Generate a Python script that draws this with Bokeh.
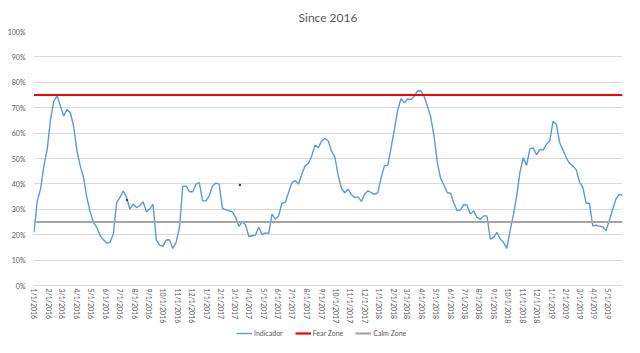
import datetime as dt
import pandas as pd
from bokeh.plotting import figure
from bokeh.layouts import column
from bokeh.models import (Legend, LegendItem, FixedTicker,
                          CustomJSTickFormatter, NumeralTickFormatter, Range1d)
from bokeh.embed import file_html
from bokeh.resources import INLINE

# ---- data (weekly readings, percent) ----
indicator_pct = [
    21, 33.3, 38, 47.1, 53.6, 65.4, 72.5, 74.8, 70.6, 66.7,
    69.3, 68, 62.7, 52.9, 47.1, 42.5, 34.6, 29, 24.8, 22.9,
    19.6, 18, 16.7, 17, 20.3, 32.7, 34.6, 37.3, 34.6, 30.1,
    32, 30.7, 31.4, 33, 29.1, 30.1, 32, 18, 15.9, 15.4,
    17.9, 18, 14.6, 17, 22.9, 39, 39.2, 36.9, 36.9, 39.9,
    40.5, 33.3, 33.3, 35.3, 39.2, 40.3, 39.9, 30.5, 29.8, 29.4,
    29, 26.8, 23.3, 25.1, 23.8, 19.3, 19.6, 19.9, 22.9, 20,
    20.7, 20.5, 28.1, 26.1, 27.4, 32.4, 32.7, 36.6, 40.5, 41.4,
    39.9, 43.8, 47.1, 48.1, 51, 55.2, 54.3, 56.9, 57.9, 56.9,
    52.9, 50.6, 43.4, 38.2, 36.5, 37.9, 35.8, 34.6, 34.9, 33.1,
    35.9, 37.3, 36.6, 35.9, 36.6, 42.5, 47.1, 47.3, 54.2, 61.4,
    69, 73.5, 71.9, 73.5, 73.2, 74.5, 76.6, 76.7, 74.5, 70.6,
    66.4, 58.8, 48.4, 42.1, 39.6, 36.5, 36.3, 32.4, 29.5, 29.8,
    31.9, 31.6, 28.1, 29.4, 26.8, 26.1, 27.4, 27.4, 18.3, 18.9,
    20.9, 18.3, 17, 14.6, 21.6, 27.8, 35.3, 44.7, 50.3, 47.3,
    53.9, 54.2, 51.4, 53.6, 53.3, 55.6, 56.9, 64.7, 63.4, 56.2,
    53.3, 50.3, 48.1, 47.1, 45.5, 40.8, 38.6, 32.4, 32.4, 23.5,
    23.7, 23.4, 23.1, 21.6, 25.5, 29.8, 34, 35.9, 35.5,
]
dates = pd.date_range("2016-01-01", periods=len(indicator_pct), freq="7D")
fear_zone = 0.75
calm_zone = 0.25
stray_dates = pd.to_datetime(["2016-07-16", "2017-03-12"])
stray_pct = [33.7, 39.6]
month_ticks = pd.date_range("2016-01-01", "2019-05-01", freq="MS")
y_ticks = [0, 0.1, 0.2, 0.3, 0.4, 0.5, 0.6, 0.7, 0.8, 0.9, 1.0]
series_names = ["Indicador", "Fear Zone", "Calm Zone"]

FONT = "Lato"
GREY = "#595959"
C_IND, C_FEAR, C_CALM = "#5b9bd5", "#ff0000", "#a5a5a5"
W_IND, W_ZONE = 1.4, 2.2

ind_y = [v / 100 for v in indicator_pct]
x_span = [dates[0], dates[-1]]

p = figure(width=640, height=328, x_axis_type="datetime",
           output_backend="svg", toolbar_location=None,
           x_range=Range1d(dt.datetime(2015, 12, 31), dates[-1].to_pydatetime()),
           y_range=Range1d(0, 1),
           min_border_left=33, min_border_right=18,
           min_border_top=30, min_border_bottom=43)
p.outline_line_color = None
p.background_fill_color = "white"
p.border_fill_color = "white"

p.title.text = "Since 2016"
p.title.align = "center"
p.title.text_font = FONT
p.title.text_font_size = "12px"
p.title.text_font_style = "normal"
p.title.text_color = GREY
p.title.text_line_height = 1.0
p.title.standoff = 14

p.line(dates, ind_y, line_color=C_IND, line_width=W_IND)
p.line(x_span, [fear_zone, fear_zone], line_color=C_FEAR, line_width=W_ZONE)
p.line(x_span, [calm_zone, calm_zone], line_color=C_CALM, line_width=W_ZONE)
p.scatter(stray_dates, [v / 100 for v in stray_pct], size=2.5,
          color="#1f3fd0", line_color=None)

# axes
p.xgrid.visible = False
p.ygrid.grid_line_color = "#d9d9d9"
p.ygrid.grid_line_width = 1

p.yaxis.ticker = FixedTicker(ticks=y_ticks)
p.yaxis.formatter = NumeralTickFormatter(format="0%")
p.yaxis.axis_line_color = None
p.yaxis.major_tick_line_color = None
p.yaxis.minor_tick_line_color = None
p.yaxis.major_tick_out = 0
p.yaxis.major_tick_in = 0
p.yaxis.minor_tick_out = 0
p.yaxis.major_label_standoff = 8
p.yaxis.major_label_text_font = FONT
p.yaxis.major_label_text_font_size = "7px"
p.yaxis.major_label_text_color = GREY

p.xaxis.ticker = FixedTicker(ticks=[t.value / 1e6 for t in month_ticks])
p.xaxis.formatter = CustomJSTickFormatter(code="""
const d = new Date(tick);
return (d.getUTCMonth() + 1) + "/" + d.getUTCDate() + "/" + d.getUTCFullYear();
""")
p.xaxis.major_label_orientation = "vertical"
p.xaxis.axis_line_color = "#d9d9d9"
p.xaxis.major_tick_line_color = None
p.xaxis.minor_tick_line_color = None
p.xaxis.major_tick_out = 0
p.xaxis.major_tick_in = 0
p.xaxis.minor_tick_out = 0
p.xaxis.major_label_standoff = 3
p.xaxis.major_label_text_font = FONT
p.xaxis.major_label_text_font_size = "7px"
p.xaxis.major_label_text_color = GREY

# legend strip below the chart (series drawn out of view, only the legend shows)
lg = figure(width=640, height=25, output_backend="svg", toolbar_location=None,
            x_axis_location=None, y_axis_location=None,
            x_range=Range1d(dates[0], dates[-1]), y_range=Range1d(5, 6),
            min_border=0)
lg.grid.visible = False
lg.outline_line_color = None
lg.border_fill_color = "white"
lg.background_fill_color = "white"
r1 = lg.line(dates, ind_y, line_color=C_IND, line_width=W_IND)
r2 = lg.line(x_span, [fear_zone, fear_zone], line_color=C_FEAR, line_width=W_ZONE)
r3 = lg.line(x_span, [calm_zone, calm_zone], line_color=C_CALM, line_width=W_ZONE)
legend = Legend(items=[LegendItem(label=series_names[0], renderers=[r1]),
                       LegendItem(label=series_names[1], renderers=[r2]),
                       LegendItem(label=series_names[2], renderers=[r3])],
                orientation="horizontal", location=(203, 15),
                border_line_color=None, background_fill_alpha=0,
                label_text_font=FONT, label_text_font_size="7px",
                label_text_color=GREY, glyph_width=16, glyph_height=10,
                label_standoff=2, spacing=12, padding=0, margin=0,
                label_height=10)
lg.add_layout(legend, "center")

layout = column(p, lg, spacing=0)
open("out.html", "w").write(file_html(layout, INLINE))
